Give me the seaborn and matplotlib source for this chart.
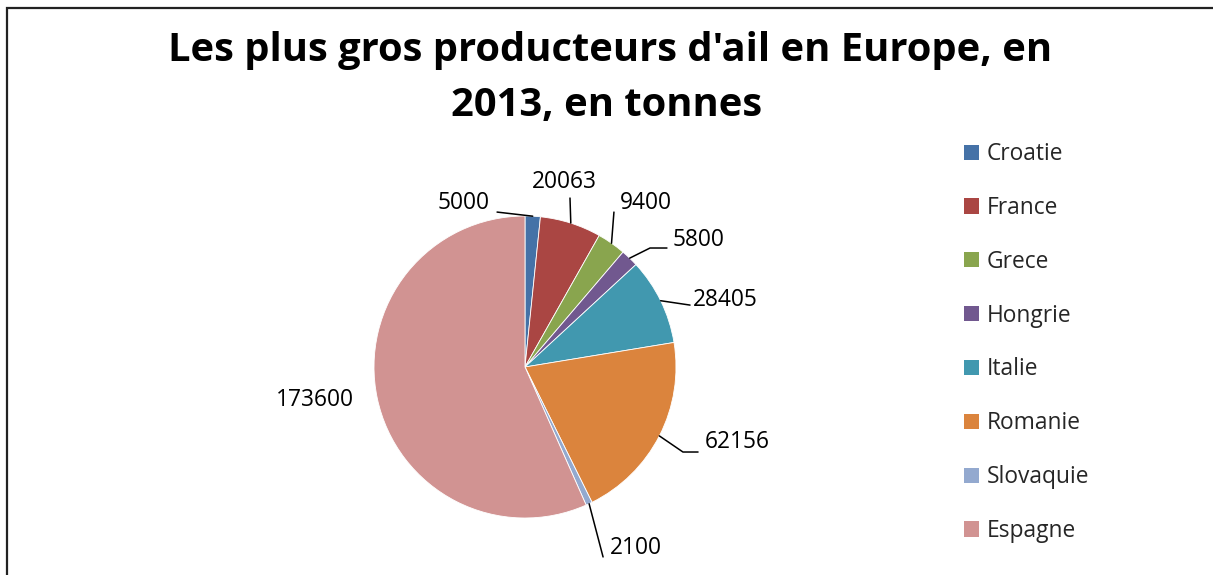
import numpy as np
import seaborn as sns
import matplotlib.pyplot as plt
from matplotlib.patches import Patch, Rectangle

# data
pays = ['Croatie', 'France', 'Grece', 'Hongrie', 'Italie', 'Romanie', 'Slovaquie', 'Espagne']
tonnes = [5000, 20063, 9400, 5800, 28405, 62156, 2100, 173600]
couleurs = ['#4572A7', '#AA4643', '#89A54E', '#71588F', '#4198AF', '#DB843D', '#93A9CF', '#D19392']

sns.set_theme(style='white')
plt.rcParams['font.family'] = ['Open Sans', 'DejaVu Sans']
palette = sns.color_palette(couleurs)

fig = plt.figure(figsize=(12.13, 5.75), dpi=100)
fig.patch.set_facecolor('white')

# pie axes (radius 1 = 151 px)
ax = fig.add_axes([(525 - 151) / 1213, (208 - 151) / 575, 302 / 1213, 302 / 575])
wedges, _ = ax.pie(tonnes, colors=palette, startangle=90, counterclock=False,
                   radius=1, wedgeprops=dict(edgecolor='white', linewidth=0.6))
ax.set_xlim(-1, 1)
ax.set_ylim(-1, 1)
ax.set_axis_off()

# label layout: text position, alignment, leader line points (after the anchor)
label_pos = [(-0.232, 1.086), (0.258, 1.225), (0.629, 1.086), (0.974, 0.841),
             (1.113, 0.444), (1.192, -0.497), (0.563, -1.199), (-1.391, -0.219)]
label_ha = ['right', 'center', 'left', 'left', 'left', 'left', 'left', 'center']
leader = [[(-0.185, 1.026)], [(0.298, 1.119)], [(0.589, 1.026)],
          [(0.828, 0.788), (0.940, 0.788)], [(1.093, 0.41)],
          [(1.046, -0.563), (1.146, -0.563)], [(0.517, -1.258)], []]

for w, v, pos, ha, pts in zip(wedges, tonnes, label_pos, label_ha, leader):
    mid = np.deg2rad((w.theta1 + w.theta2) / 2)
    anchor = (np.cos(mid), np.sin(mid))
    if pts:
        xs = [anchor[0]] + [p[0] for p in pts]
        ys = [anchor[1]] + [p[1] for p in pts]
        ax.plot(xs, ys, color='black', lw=1.1, clip_on=False)
    ax.text(pos[0], pos[1], str(v), ha=ha, va='center', fontsize=16.4,
            color='black', clip_on=False)

fig.text(0.503, 1 - 51 / 575, "Les plus gros producteurs d'ail en Europe, en",
         ha='center', va='center', fontsize=28.7, fontweight='bold', color='black')
fig.text(0.5, 1 - 105 / 575, "2013, en tonnes",
         ha='center', va='center', fontsize=28.7, fontweight='bold', color='black')

handles = [Patch(facecolor=c, edgecolor='none') for c in palette]
fig.legend(handles, pays, loc='upper left', bbox_to_anchor=(955 / 1213, 1 - 133 / 575),
           frameon=False, fontsize=16.4, handlelength=0.65, handleheight=0.65,
           handletextpad=0.35, labelspacing=1.31, borderaxespad=0)

# chart border (right and bottom edges fall outside the picture)
fig.add_artist(Rectangle((7 / 1213, -0.1), 2, 1.1 - 8 / 575, transform=fig.transFigure,
                         fill=False, edgecolor='#222222', lw=1.6))

fig.savefig('out.png', dpi=100, facecolor='white')
